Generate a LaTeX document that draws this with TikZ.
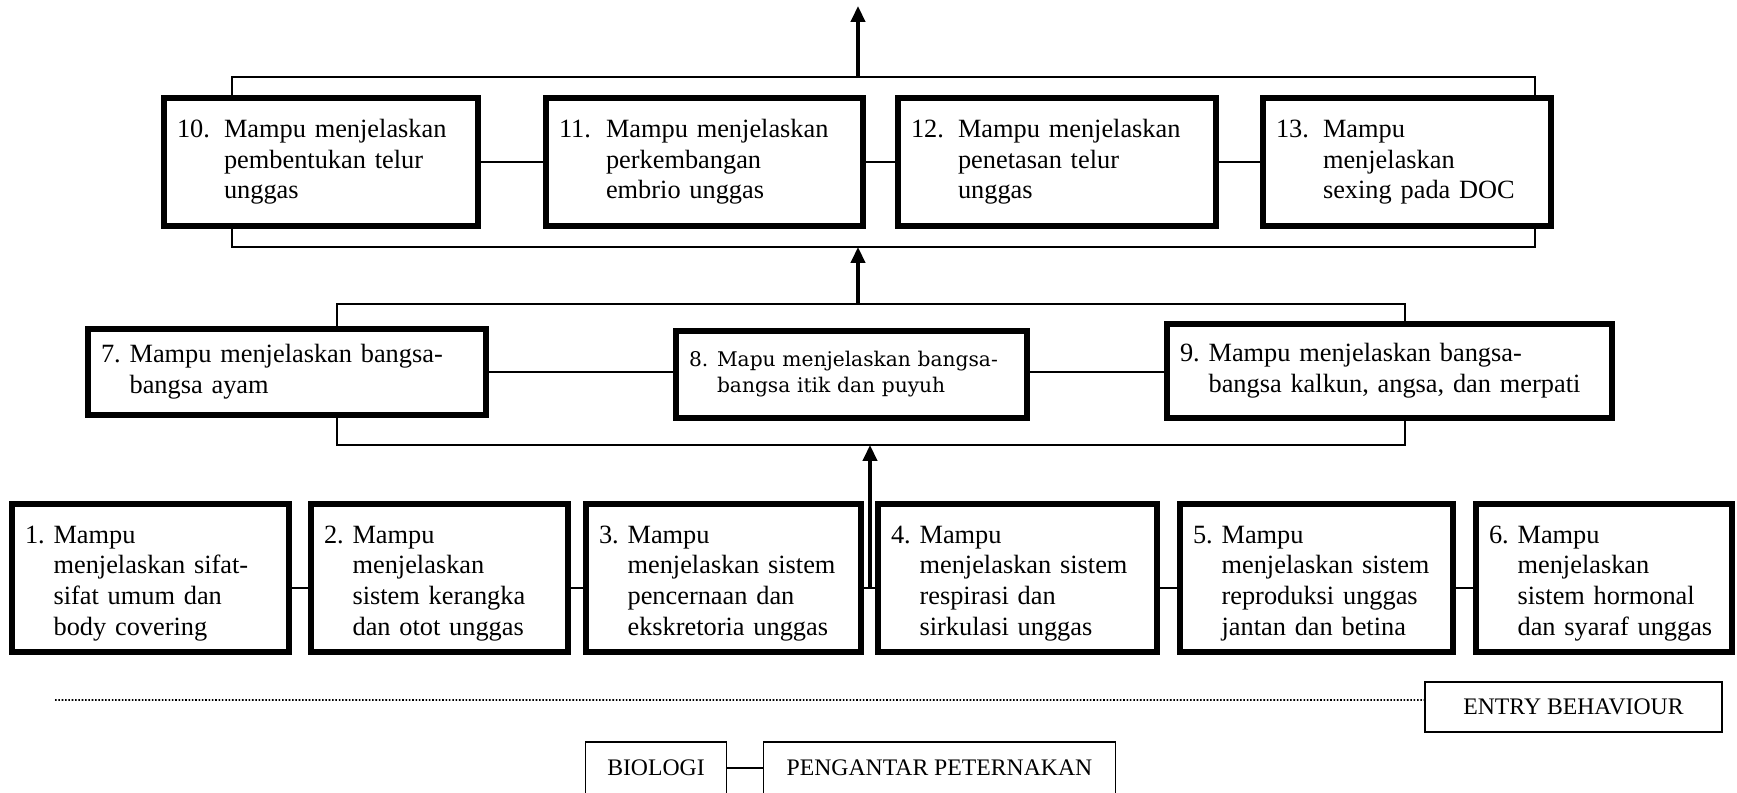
\documentclass[tikz,border=0pt]{standalone}
\usepackage{fontspec}
\setmainfont{Liberation Serif}
\newfontfamily\altserif{DejaVu Serif}
\usetikzlibrary{arrows.meta,positioning,calc}

% number in front, lines of the goal hanging under the first word
\newcommand{\goal}[3][l@{\ }]{%
  \begin{tabular}[t]{@{}#1l@{}}#2&\begin{tabular}[t]{@{}l@{}}#3\end{tabular}\end{tabular}}
% pushes the text of a box a little down
\newcommand{\lowered}[1]{\raisebox{0pt}[\dimexpr\height+0.2cm\relax][\depth]{#1}}

\begin{document}
\begin{tikzpicture}[x=0.02cm, y=-0.02cm,
      goal/.style={draw, line width=3.2pt, inner xsep=0.26cm, inner ysep=0pt,
                   align=left, font=\fontsize{15}{17.5}\selectfont},
      entry/.style={draw, line width=0.9pt, inner sep=0pt,
                    font=\fontsize{13.5}{16}\selectfont},
      link/.style={line width=1.3pt},
      bracket/.style={line width=1pt},
      dotline/.style={line width=0.9pt, densely dotted},
      arrow/.style={-{Triangle[length=9pt,width=8pt]}, line width=2pt}]

    \useasboundingbox (0,0) rectangle (1737,792);

    % top row
    \node[goal, text width=5.76cm, minimum height=2.56cm] (b10) at (321,162)
      {\goal[p{0.94cm}@{}]{10.}{Mampu menjelaskan\\pembentukan telur\\unggas}};
    \node[goal, text width=5.82cm, minimum height=2.56cm] (b11) at (704.5,162)
      {\goal[p{0.94cm}@{}]{11.}{Mampu menjelaskan\\perkembangan\\embrio unggas}};
    \node[goal, text width=5.84cm, minimum height=2.56cm] (b12) at (1057,162)
      {\goal[p{0.94cm}@{}]{12.}{Mampu menjelaskan\\penetasan telur\\unggas}};
    \node[goal, text width=5.24cm, minimum height=2.56cm] (b13) at (1407,162)
      {\goal[p{0.94cm}@{}]{13.}{Mampu\\menjelaskan\\sexing pada DOC}};

    % middle row
    \node[goal, text width=7.44cm, minimum height=1.72cm] (b7) at (287,372)
      {\goal{7.}{Mampu menjelaskan bangsa-\\bangsa ayam}};
    \node[goal, text width=6.5cm, minimum height=1.74cm,
          font=\altserif\fontsize{11.5}{15}\selectfont] (b8) at (851.5,374.5)
      {\goal[p{0.56cm}@{}]{8.}{Mapu menjelaskan bangsa-\\bangsa itik dan puyuh}};
    \node[goal, text width=8.38cm, minimum height=1.88cm] (b9) at (1389.5,371)
      {\goal{9.}{Mampu menjelaskan bangsa-\\bangsa kalkun, angsa, dan merpati}};

    % bottom row
    \node[goal, text width=5.02cm, minimum height=2.96cm] (b1) at (150.5,578)
      {\lowered{\goal{1.}{Mampu\\menjelaskan sifat-\\sifat umum dan\\body covering}}};
    \node[goal, text width=4.62cm, minimum height=2.96cm] (b2) at (439.5,578)
      {\lowered{\goal{2.}{Mampu\\menjelaskan\\sistem kerangka\\dan otot unggas}}};
    \node[goal, text width=4.98cm, minimum height=2.96cm] (b3) at (723.5,578)
      {\lowered{\goal{3.}{Mampu\\menjelaskan sistem\\pencernaan dan\\ekskretoria unggas}}};
    \node[goal, text width=5.06cm, minimum height=2.96cm] (b4) at (1017.5,578)
      {\lowered{\goal{4.}{Mampu\\menjelaskan sistem\\respirasi dan\\sirkulasi unggas}}};
    \node[goal, text width=4.94cm, minimum height=2.96cm] (b5) at (1316.5,578)
      {\lowered{\goal{5.}{Mampu\\menjelaskan sistem\\reproduksi unggas\\jantan dan betina}}};
    \node[goal, text width=4.6cm, minimum height=2.96cm] (b6) at (1604,578)
      {\lowered{\goal{6.}{Mampu\\menjelaskan\\sistem hormonal\\dan syaraf unggas}}};

    % entry behaviour
    \node[entry, minimum width=5.94cm, minimum height=1cm] (entry) at (1573.5,707)
      {ENTRY BEHAVIOUR};
    \node[entry, minimum width=2.82cm, minimum height=1.04cm] (bio) at (656,768)
      {BIOLOGI};
    \node[entry, minimum width=7.04cm, minimum height=1.04cm] (intro) at (939.5,768)
      {PENGANTAR PETERNAKAN};

    % links inside rows
    \draw[link] (b10) -- (b11);
    \draw[link] (b11) -- (b12);
    \draw[link] (b12) -- (b13);
    \draw[link] (b7.east) -- (b7.east -| b8.west);
    \draw[link] (b8.east |- b7.east) -- (b7.east -| b9.west);
    \draw[link] ([yshift=-0.2cm]b1.east) -- ([yshift=-0.2cm]b2.west);
    \draw[link] ([yshift=-0.2cm]b2.east) -- ([yshift=-0.2cm]b3.west);
    \draw[link] ([yshift=-0.2cm]b3.east) -- ([yshift=-0.2cm]b4.west);
    \draw[link] ([yshift=-0.2cm]b4.east) -- ([yshift=-0.2cm]b5.west);
    \draw[link] ([yshift=-0.2cm]b5.east) -- ([yshift=-0.2cm]b6.west);
    \draw[link] (bio) -- (intro);

    % brackets
    \coordinate (t1) at (232,77);
    \coordinate (t2) at (1535,77);
    \coordinate (t3) at (232,247);
    \coordinate (t4) at (1535,247);
    \coordinate (m1) at (337,304);
    \coordinate (m2) at (1405,304);
    \coordinate (m3) at (337,445);
    \coordinate (m4) at (1405,445);
    \draw[bracket] (t1 |- b10.north) -- (t1) -- (t2) -- (t2 |- b13.north);
    \draw[bracket] (t3 |- b10.south) -- (t3) -- (t4) -- (t4 |- b13.south);
    \draw[bracket] (m1 |- b7.north) -- (m1) -- (m2) -- (m2 |- b9.north);
    \draw[bracket] (m3 |- b7.south) -- (m3) -- (m4) -- (m4 |- b9.south);

    % arrows upward
    \coordinate (goalout) at (858,6);
    \coordinate (join) at (870,588);
    \draw[arrow] (goalout |- t1) -- (goalout);
    \draw[arrow] (goalout |- m1) -- (goalout |- t3);
    \draw[arrow] (join) -- (join |- m3);

    \coordinate (dots) at (55,700);
    \draw[dotline] (dots) -- ([yshift=0.14cm]entry.west);
  \end{tikzpicture}
\end{document}
